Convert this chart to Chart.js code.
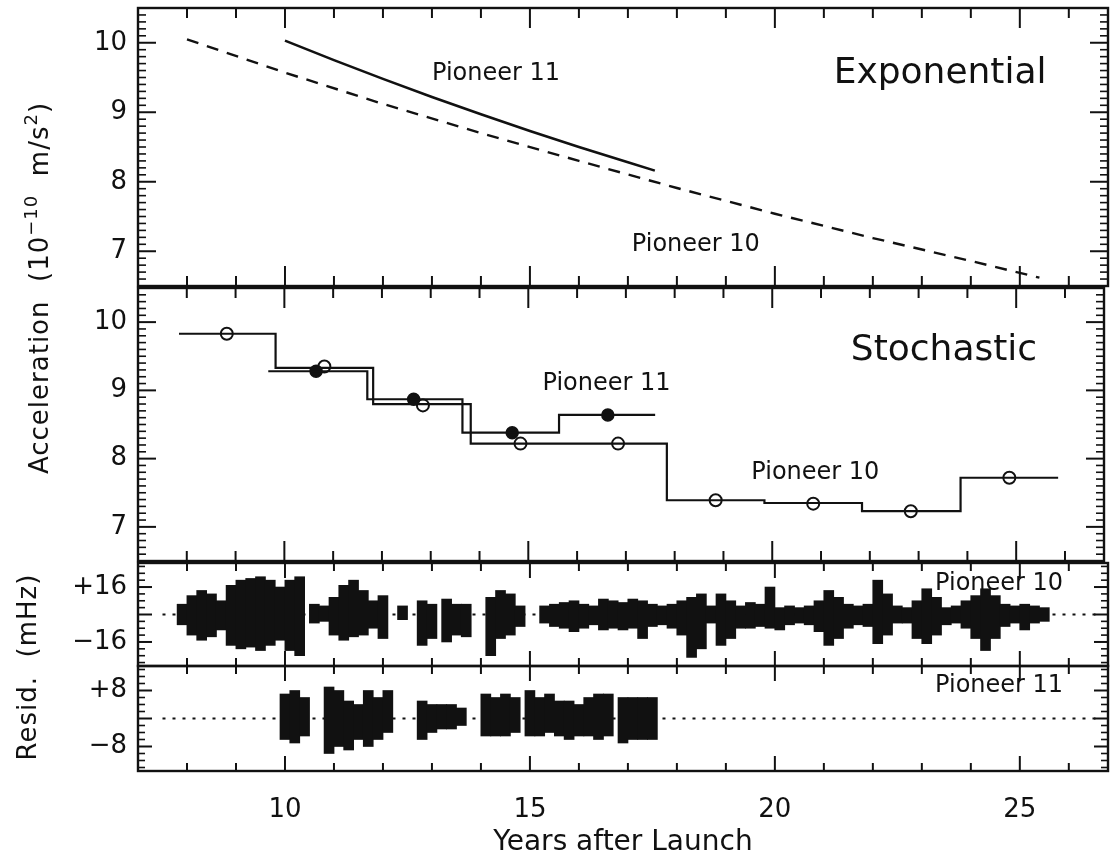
<!DOCTYPE html>
<html>
<head>
<meta charset="utf-8">
<script src="https://cdn.jsdelivr.net/npm/chart.js@4.4.1/dist/chart.umd.min.js"></script>
<style>
body { margin: 0; background: #fff; width: 1112px; height: 860px; overflow: hidden; position: relative; font-family: "DejaVu Sans", sans-serif; }
canvas { position: absolute; left: 0; }
.ytitle { position: absolute; white-space: nowrap; font-size: 26px; letter-spacing: 1px; color: #111; transform: translate(-50%, -50%) rotate(-90deg); }
.ytitle sup { font-size: 18px; position: relative; top: -2px; }
</style>
</head>
<body>
<canvas id="expo" width="1112" height="290" style="top:2px"></canvas>
<canvas id="stoch" width="1112" height="289" style="top:280px"></canvas>
<canvas id="res10" width="1112" height="115" style="top:557px"></canvas>
<canvas id="res11" width="1112" height="200" style="top:660px"></canvas>
<div class="ytitle" style="left:38px; top:288px">Acceleration&nbsp; (10<sup>−10</sup>&nbsp; m/s<sup>2</sup>)</div>
<div class="ytitle" style="left:27px; top:667px">Resid.&nbsp; (mHz)</div>
<script>
// ---- data ----
// exponential model curves (10^-10 m/s^2)
const expYears10 = [8.0, 10, 12, 14, 16, 18, 20, 22, 24, 25.4];
const expAccel10 = [10.05, 9.57, 9.12, 8.70, 8.30, 7.91, 7.54, 7.19, 6.86, 6.62];
const expYears11 = [10, 11, 12, 13, 14, 15, 16, 17, 17.55];
const expAccel11 = [10.03, 9.75, 9.48, 9.22, 8.97, 8.73, 8.50, 8.28, 8.16];

// stochastic model: bin edges and step values
const p10Edges = [7.84, 9.82, 11.82, 13.82, 17.84, 19.84, 21.84, 23.86, 25.86];
const p10Steps = [9.83, 9.33, 8.80, 8.22, 7.39, 7.35, 7.23, 7.72];
const p10PointYears = [8.82, 10.82, 12.84, 14.84, 16.84, 18.84, 20.84, 22.84, 24.86];
const p10PointAccel = [9.83, 9.35, 8.78, 8.22, 8.22, 7.39, 7.34, 7.23, 7.72];
const p11Edges = [9.67, 11.70, 13.65, 15.63, 17.60];
const p11Steps = [9.28, 8.87, 8.38, 8.64];
const p11PointYears = [10.65, 12.65, 14.67, 16.63];
const p11PointAccel = [9.28, 8.87, 8.38, 8.64];

// Doppler residual envelopes (mHz), 0.2 yr bins
const r10Years = [7.9, 8.1, 8.3, 8.5, 8.7, 8.9, 9.1, 9.3, 9.5, 9.7, 9.9, 10.1, 10.3, 10.6, 10.8, 11.0, 11.2, 11.4, 11.6, 11.8, 12.0, 12.4, 12.8, 13.0, 13.3, 13.5, 13.7, 14.2, 14.4, 14.6, 14.8, 15.3, 15.5, 15.7, 15.9, 16.1, 16.3, 16.5, 16.7, 16.9, 17.1, 17.3, 17.5, 17.7, 17.9, 18.1, 18.3, 18.5, 18.7, 18.9, 19.1, 19.3, 19.5, 19.7, 19.9, 20.1, 20.3, 20.5, 20.7, 20.9, 21.1, 21.3, 21.5, 21.7, 21.9, 22.1, 22.3, 22.5, 22.7, 22.9, 23.1, 23.3, 23.5, 23.7, 23.9, 24.1, 24.3, 24.5, 24.7, 24.9, 25.1, 25.3, 25.5];
const r10High = [6, 11, 14, 12, 8, 17, 20, 21, 22, 20, 16, 20, 22, 6, 5, 10, 17, 20, 14, 8, 11, 5, 8, 6, 9, 6, 6, 10, 14, 12, 5, 5, 6, 7, 8, 6, 5, 9, 8, 7, 9, 8, 6, 5, 6, 8, 10, 12, 5, 12, 8, 5, 7, 6, 16, 4, 5, 4, 5, 8, 14, 10, 6, 5, 6, 20, 12, 5, 4, 8, 15, 10, 4, 5, 8, 11, 15, 11, 6, 5, 6, 5, 4];
const r10Low = [-6, -12, -15, -13, -9, -18, -20, -19, -21, -18, -15, -21, -24, -5, -4, -12, -15, -13, -12, -8, -14, -3, -18, -14, -16, -12, -13, -24, -14, -12, -7, -5, -7, -8, -10, -8, -6, -9, -8, -9, -8, -14, -7, -6, -8, -12, -25, -20, -5, -18, -14, -8, -8, -7, -8, -9, -6, -5, -6, -10, -18, -14, -8, -6, -7, -17, -12, -5, -5, -14, -17, -12, -6, -5, -8, -14, -21, -14, -7, -5, -9, -5, -4];

const r11Years = [10.0, 10.2, 10.4, 10.9, 11.1, 11.3, 11.5, 11.7, 11.9, 12.1, 12.8, 13.0, 13.2, 13.4, 13.6, 14.1, 14.3, 14.5, 14.7, 15.0, 15.2, 15.4, 15.6, 15.8, 16.0, 16.2, 16.4, 16.6, 16.9, 17.1, 17.3, 17.5];
const r11High = [7, 8, 6, 9, 8, 5, 4, 8, 6, 8, 5, 4, 4, 4, 3, 7, 6, 7, 6, 8, 6, 7, 5, 5, 4, 6, 7, 7, 6, 6, 6, 6];
const r11Low = [-6, -7, -5, -10, -8, -9, -6, -8, -6, -4, -6, -4, -3, -3, -2, -5, -5, -5, -4, -5, -5, -4, -5, -6, -5, -5, -6, -5, -7, -6, -6, -6];

const zeroLineYears = [7.5, 26.65];

Chart.defaults.font.family = '"DejaVu Sans", sans-serif';
Chart.defaults.color = '#111';
Chart.defaults.animation = false;

const ink = '#111';
const xMin = 7, xMax = 26.8;

// inward ticks on all four sides plus the box, using the chart's scales
const frameTicks = {
  id: 'frameTicks',
  afterDatasetsDraw(chart, args, o) {
    const {ctx, chartArea: a, scales: {x, y}} = chart;
    ctx.save();
    ctx.strokeStyle = ink;
    ctx.lineWidth = 2;
    const seg = (x1, y1, x2, y2) => { ctx.beginPath(); ctx.moveTo(x1, y1); ctx.lineTo(x2, y2); ctx.stroke(); };
    for (let v = Math.ceil(x.min); v <= x.max; v++) {
      const px = x.getPixelForValue(v);
      const len = v % 5 === 0 ? o.xMajor : o.xMinor;
      seg(px, a.top, px, a.top + len);
      seg(px, a.bottom, px, a.bottom - len);
    }
    const k0 = Math.ceil(y.min / o.yStep - 1e-6), k1 = Math.floor(y.max / o.yStep + 1e-6);
    for (let k = k0; k <= k1; k++) {
      const v = k * o.yStep;
      const r = v / o.yMajorStep;
      const major = Math.abs(r - Math.round(r)) < 1e-6;
      const py = y.getPixelForValue(v);
      const len = major ? o.yMajor : o.yMinor;
      ctx.lineWidth = major ? 2 : 1.6;
      seg(a.left, py, a.left + len, py);
      seg(a.right, py, a.right - len, py);
    }
    ctx.lineWidth = 2.4;
    ctx.strokeRect(a.left, a.top, a.right - a.left, a.bottom - a.top);
    ctx.restore();
  }
};

// text labels placed in data coordinates
const notes = {
  id: 'notes',
  afterDatasetsDraw(chart, args, o) {
    const {ctx, scales: {x, y}} = chart;
    ctx.save();
    ctx.fillStyle = ink;
    ctx.textAlign = 'left';
    ctx.textBaseline = 'alphabetic';
    for (const n of o.items) {
      ctx.font = n.size + 'px "DejaVu Sans"';
      ctx.fillText(n.text, x.getPixelForValue(n.x), y.getPixelForValue(n.y));
    }
    ctx.restore();
  }
};

function xScale(show) {
  return {
    type: 'linear', min: xMin, max: xMax, offset: false,
    display: show,
    grid: { display: false, drawTicks: false }, border: { display: false },
    afterBuildTicks: s => { s.ticks = [10, 15, 20, 25].map(v => ({ value: v })); },
    afterFit: s => { s.height = show ? 89 : 0; s.paddingLeft = 0; s.paddingRight = 0; },
    ticks: { autoSkip: false, maxRotation: 0, padding: 24, font: { size: 26 } },
    title: { display: show, text: 'Years after Launch', font: { size: 28 }, padding: { top: 0, bottom: 0 } }
  };
}

function yScale(min, max, labels, fmt) {
  return {
    type: 'linear', min: min, max: max, position: 'left',
    grid: { display: false, drawTicks: false }, border: { display: false },
    afterBuildTicks: s => { s.ticks = labels.map(v => ({ value: v })); },
    afterFit: s => { s.width = 138; s.paddingTop = 0; s.paddingBottom = 0; },
    ticks: { padding: 11, font: { size: 26 }, callback: fmt }
  };
}

const signed = v => v > 0 ? '+' + v : '\u2212' + Math.abs(v);
const pts = (xs, ys) => xs.map((v, i) => ({ x: v, y: ys[i] }));
const stepPts = (edges, vals) => edges.map((e, i) => ({ x: e, y: vals[Math.min(i, vals.length - 1)] }));
const bandPts = (xs, hi, lo) => xs.map((v, i) => ({ x: v, y: [lo[i], hi[i]] }));
const pad = { left: 0, right: 4, top: 6, bottom: 6 };
const bigTicks = { xMajor: 20, xMinor: 10, yStep: 0.1, yMajorStep: 1, yMajor: 18, yMinor: 8 };

new Chart(document.getElementById('expo'), {
  type: 'line',
  data: {
    datasets: [
      { data: pts(expYears11, expAccel11), borderColor: ink, borderWidth: 2.6, pointRadius: 0 },
      { data: pts(expYears10, expAccel10), borderColor: ink, borderWidth: 2.4, borderDash: [12, 9], pointRadius: 0 }
    ]
  },
  options: {
    responsive: false, layout: { padding: pad },
    plugins: { legend: { display: false }, tooltip: { enabled: false },
      frameTicks: bigTicks,
      notes: { items: [
        { text: 'Exponential', x: 21.2, y: 9.42, size: 36 },
        { text: 'Pioneer 11', x: 13.0, y: 9.47, size: 24 },
        { text: 'Pioneer 10', x: 17.08, y: 7.0, size: 24 }
      ] } },
    scales: { x: xScale(false), y: yScale(6.5, 10.5, [7, 8, 9, 10]) }
  },
  plugins: [frameTicks, notes]
});

new Chart(document.getElementById('stoch'), {
  type: 'line',
  data: {
    datasets: [
      { data: stepPts(p11Edges, p11Steps), stepped: 'before', borderColor: ink, borderWidth: 2.2, pointRadius: 0 },
      { data: stepPts(p10Edges, p10Steps), stepped: 'before', borderColor: ink, borderWidth: 2.2, pointRadius: 0 },
      { data: pts(p11PointYears, p11PointAccel), showLine: false, pointRadius: 6, pointBackgroundColor: ink, pointBorderColor: ink, pointBorderWidth: 1.5 },
      { data: pts(p10PointYears, p10PointAccel), showLine: false, pointRadius: 6, pointBackgroundColor: '#fff', pointBorderColor: ink, pointBorderWidth: 2 }
    ]
  },
  options: {
    responsive: false, layout: { padding: pad },
    plugins: { legend: { display: false }, tooltip: { enabled: false },
      frameTicks: bigTicks,
      notes: { items: [
        { text: 'Stochastic', x: 21.61, y: 9.45, size: 36 },
        { text: 'Pioneer 11', x: 15.29, y: 9.0, size: 24 },
        { text: 'Pioneer 10', x: 19.57, y: 7.70, size: 24 }
      ] } },
    scales: { x: xScale(false), y: yScale(6.5, 10.5, [7, 8, 9, 10]) }
  },
  plugins: [frameTicks, notes]
});

new Chart(document.getElementById('res10'), {
  type: 'bar',
  data: {
    datasets: [
      { type: 'line', data: pts(zeroLineYears, [0, 0]), borderColor: ink, borderWidth: 2, borderDash: [3, 7], pointRadius: 0, order: 2 },
      { data: bandPts(r10Years, r10High, r10Low), backgroundColor: ink, barThickness: 10, borderWidth: 0, order: 1 }
    ]
  },
  options: {
    responsive: false, layout: { padding: pad },
    plugins: { legend: { display: false }, tooltip: { enabled: false },
      frameTicks: { xMajor: 15, xMinor: 8, yStep: 4, yMajorStep: 16, yMajor: 14, yMinor: 7 },
      notes: { items: [{ text: 'Pioneer 10', x: 23.27, y: 14, size: 24 }] } },
    scales: { x: xScale(false), y: yScale(-30, 30, [-16, 16], signed) }
  },
  plugins: [frameTicks, notes]
});

new Chart(document.getElementById('res11'), {
  type: 'bar',
  data: {
    datasets: [
      { type: 'line', data: pts(zeroLineYears, [0, 0]), borderColor: ink, borderWidth: 2, borderDash: [3, 7], pointRadius: 0, order: 2 },
      { data: bandPts(r11Years, r11High, r11Low), backgroundColor: ink, barThickness: 10, borderWidth: 0, order: 1 }
    ]
  },
  options: {
    responsive: false, layout: { padding: { left: 0, right: 4, top: 6, bottom: 0 } },
    plugins: { legend: { display: false }, tooltip: { enabled: false },
      frameTicks: { xMajor: 15, xMinor: 8, yStep: 2, yMajorStep: 8, yMajor: 14, yMinor: 7 },
      notes: { items: [{ text: 'Pioneer 11', x: 23.27, y: 7.6, size: 24 }] } },
    scales: { x: xScale(true), y: yScale(-15, 15, [-8, 8], signed) }
  },
  plugins: [frameTicks, notes]
});
</script>
</body>
</html>
